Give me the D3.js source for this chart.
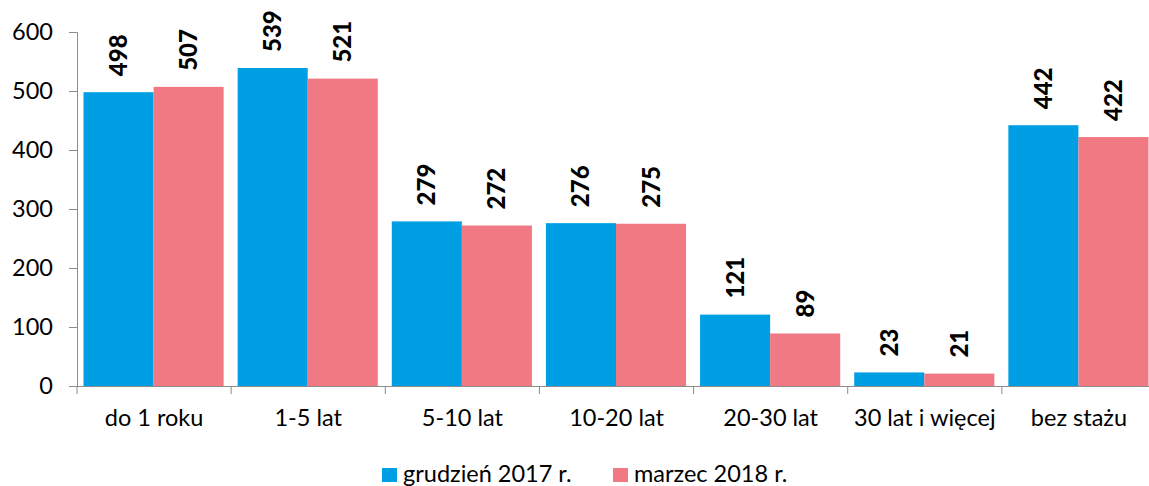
<!DOCTYPE html>
<html>
<head>
<meta charset="utf-8">
<script src="https://cdn.jsdelivr.net/npm/d3@7"></script>
<style>
  body { margin: 0; background: #fff; }
  svg { font-family: Lato, "Liberation Sans", sans-serif; }
</style>
</head>
<body>
<div id="chart"></div>
<script>
const categories = ["do 1 roku", "1-5 lat", "5-10 lat", "10-20 lat", "20-30 lat", "30 lat i więcej", "bez stażu"];
const seriesNames = ["grudzień 2017 r.", "marzec 2018 r."];
const dec2017 = [498, 539, 279, 276, 121, 23, 442];
const mar2018 = [507, 521, 272, 275, 89, 21, 422];
const yTicks = [0, 100, 200, 300, 400, 500, 600];
const colors = ["#009FE3", "#F07984"];

const width = 1149, height = 486;
const fs = 23.5;

const data = categories.map((c, i) => ({ cat: c, values: [dec2017[i], mar2018[i]] }));

const x0 = d3.scaleBand().domain(categories).range([77, 1156]);
const x1 = d3.scaleBand().domain([0, 1]).range([6.5, x0.bandwidth() - 7.5]);
const y = d3.scaleLinear().domain([0, 600]).range([386, 32]);

const svg = d3.select("#chart").append("svg")
  .attr("width", width)
  .attr("height", height);

// y axis
const yAxis = svg.append("g")
  .attr("transform", "translate(77,0)")
  .call(d3.axisLeft(y).tickValues(yTicks).tickSize(8).tickPadding(16).tickFormat(d3.format("d")));
yAxis.selectAll("line, path").attr("stroke", "#8c8c8c");
yAxis.selectAll("text").attr("font-size", fs).attr("fill", "#000").attr("font-family", "Lato, sans-serif");

// bars
const groups = svg.append("g")
  .selectAll("g")
  .data(data)
  .join("g")
  .attr("transform", d => `translate(${x0(d.cat)},0)`);

groups.selectAll("rect")
  .data(d => d.values.map((v, k) => ({ k, v })))
  .join("rect")
  .attr("x", d => x1(d.k))
  .attr("y", d => y(d.v))
  .attr("width", x1.bandwidth())
  .attr("height", d => y(0) - y(d.v))
  .attr("fill", d => colors[d.k]);

groups.selectAll("text.val")
  .data(d => d.values.map((v, k) => ({ k, v })))
  .join("text")
  .attr("class", "val")
  .attr("transform", d => `translate(${x1(d.k) + x1.bandwidth() / 2 + 8.5},${y(d.v) - 16}) rotate(-90)`)
  .attr("font-size", 24)
  .attr("font-weight", 900)
  .attr("fill", "#000")
  .text(d => d.v);

// x axis
const xAxis = svg.append("g")
  .attr("transform", "translate(0,386)")
  .call(d3.axisBottom(x0).tickSize(0).tickPadding(23));
xAxis.select(".domain").attr("stroke", "#8c8c8c");
xAxis.selectAll("text").attr("font-size", fs).attr("fill", "#000").attr("font-family", "Lato, sans-serif");

// category separators
svg.append("g")
  .selectAll("line")
  .data(categories)
  .join("line")
  .attr("x1", d => x0(d))
  .attr("x2", d => x0(d))
  .attr("y1", 386)
  .attr("y2", 394)
  .attr("stroke", "#8c8c8c");

// legend
const legendX = [382, 613];
const legend = svg.append("g")
  .selectAll("g")
  .data(seriesNames)
  .join("g")
  .attr("transform", (d, i) => `translate(${legendX[i]},468)`);
legend.append("rect")
  .attr("width", 15)
  .attr("height", 14)
  .attr("fill", (d, i) => colors[i]);
legend.append("text")
  .attr("x", 21)
  .attr("y", 14)
  .attr("font-size", fs)
  .attr("fill", "#000")
  .text(d => d);
</script>
</body>
</html>
